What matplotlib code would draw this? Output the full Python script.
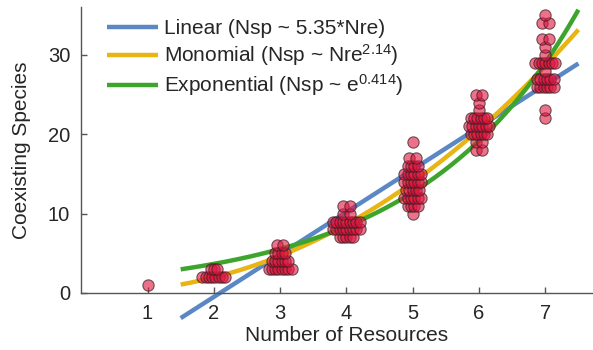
import numpy as np
import matplotlib
matplotlib.use("Agg")
import matplotlib.pyplot as plt

plt.rcParams['font.family'] = ['Liberation Sans', 'DejaVu Sans']
plt.rcParams['mathtext.default'] = 'regular'

# observed coexisting species: value rows and how many runs gave that value
resources = [1, 2, 3, 4, 5, 6, 7]
nsp_values = [
    [1],
    [2, 3],
    [3, 4, 5, 6],
    [7, 8, 9, 10, 11],
    [10, 11, 12, 13, 14, 15, 16, 17, 19],
    [18, 19, 20, 21, 22, 23, 24, 25],
    [22, 23, 26, 27, 28, 29, 30, 31, 32, 34, 35],
]
nsp_counts = [
    [1],
    [8, 3],
    [8, 6, 4, 2],
    [5, 9, 9, 2, 2],
    [1, 4, 6, 5, 6, 6, 4, 2, 1],
    [2, 2, 6, 7, 6, 1, 1, 2],
    [1, 1, 6, 6, 1, 7, 1, 1, 2, 2, 1],
]

# fitted curves
lin_slope, lin_icpt = 5.35, -11.2
mono_coef, mono_exp = 0.445, 2.14
expo_coef, expo_rate = 1.6, 0.414
fit_range = (1.5, 7.5)

text_col = '#262626'
fig = plt.figure(figsize=(5.93, 3.5), dpi=100)
ax = fig.add_axes([0.137, 0.163, 0.863, 0.816])

xf = np.linspace(fit_range[0], fit_range[1], 200)
ax.plot(xf, lin_slope * xf + lin_icpt, color='#5B88C4', lw=3.2,
        label='Linear (Nsp ~ 5.35*Nre)', clip_on=False, solid_capstyle='butt')
ax.plot(xf, mono_coef * xf ** mono_exp, color='#E8B514', lw=3.2,
        label='Monomial (Nsp ~ Nre$^{2.14}$)', solid_capstyle='butt')
ax.plot(xf, expo_coef * np.exp(expo_rate * xf), color='#3EA52C', lw=3.2,
        label='Exponential (Nsp ~ e$^{0.414}$)', clip_on=False, solid_capstyle='butt')

# simple swarm layout: points in a row spread sideways
spacing = 0.05
xs, ys = [], []
for r, vals, cnts in zip(resources, nsp_values, nsp_counts):
    for v, n in zip(vals, cnts):
        step = spacing if n > 2 else spacing * 2
        for i in range(n):
            xs.append(r + (i - (n - 1) / 2) * step)
            ys.append(v)
ax.scatter(xs, ys, s=66, facecolor=(0.88, 0.08, 0.25, 0.6),
           edgecolor=(0.22, 0.12, 0.12, 0.7), linewidths=0.8, zorder=5, clip_on=False)

ax.set_xlim(0, 7.72)
ax.set_ylim(0, 36)
ax.set_xticks(resources)
ax.set_yticks([0, 10, 20, 30])
for s in ['top', 'right']:
    ax.spines[s].set_visible(False)
for s in ['left', 'bottom']:
    ax.spines[s].set_color('#555555')
    ax.spines[s].set_linewidth(1.0)
ax.tick_params(direction='in', length=4, width=1, color='#555555',
               labelsize=14.5, labelcolor=text_col, pad=8)
ax.set_xlabel('Number of Resources', fontsize=15, color=text_col)
ax.xaxis.set_label_coords(0.518, -0.115)
ax.set_ylabel('Coexisting Species', fontsize=15, color=text_col, labelpad=12)

ax.legend(loc='upper left', frameon=False, fontsize=15, handlelength=2.45,
          handletextpad=0.3, labelspacing=0.2, borderaxespad=0.1,
          bbox_to_anchor=(0.03, 0.995), labelcolor=text_col)

fig.savefig('out.png', dpi=100)
